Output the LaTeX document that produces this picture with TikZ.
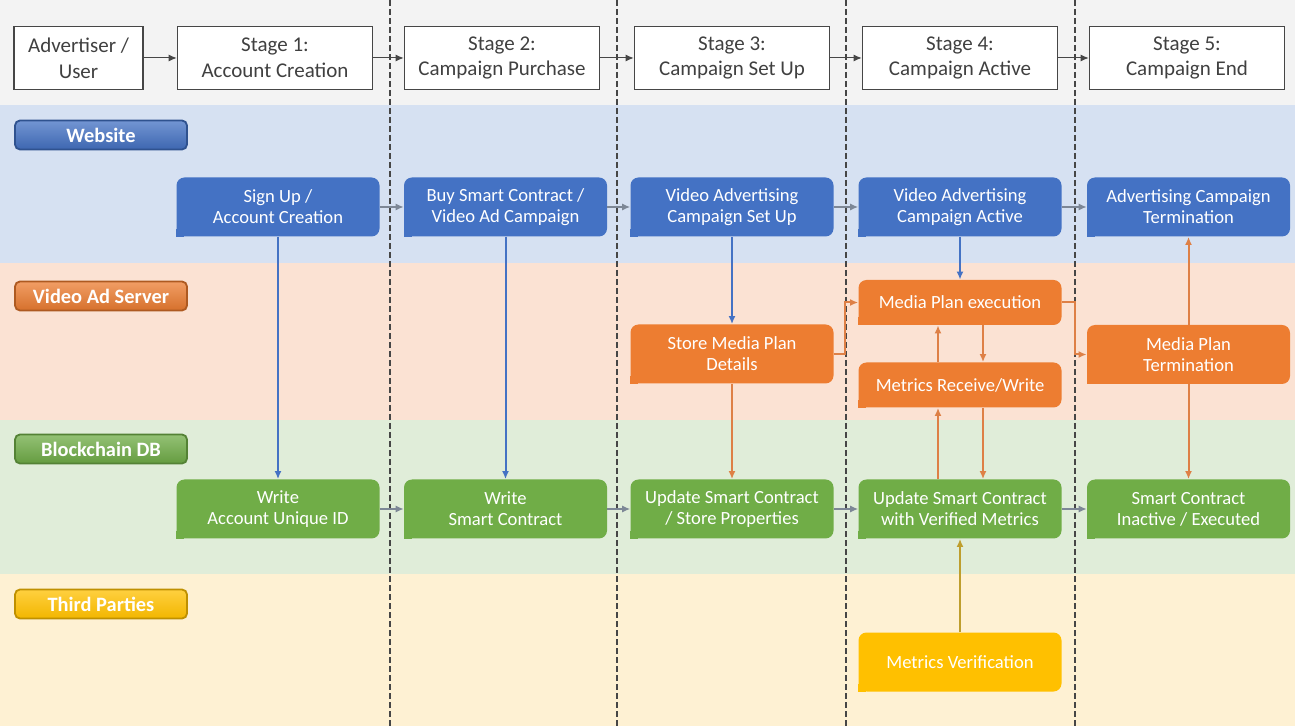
\documentclass[tikz,border=0pt]{standalone}
\usepackage{fontspec}
\setmainfont{Carlito}
\usetikzlibrary{arrows.meta}

\definecolor{hdrbg}{RGB}{243,243,243}
\definecolor{webbg}{RGB}{214,225,242}
\definecolor{vidbg}{RGB}{251,226,211}
\definecolor{bcbg}{RGB}{224,237,217}
\definecolor{tpbg}{RGB}{254,241,211}
\definecolor{cblue}{RGB}{68,114,196}
\definecolor{corange}{RGB}{237,125,49}
\definecolor{cgreen}{RGB}{112,173,71}
\definecolor{cyellow}{RGB}{255,192,0}
\definecolor{dblue}{RGB}{47,82,143}
\definecolor{dorange}{RGB}{174,90,33}
\definecolor{dgreen}{RGB}{84,130,53}
\definecolor{dyellow}{RGB}{191,144,0}
\definecolor{hdrline}{RGB}{70,70,70}
\definecolor{hdrtext}{RGB}{64,64,64}
\definecolor{flowgray}{RGB}{125,135,150}
\definecolor{oline}{RGB}{222,128,70}
\definecolor{yline}{RGB}{190,158,45}

\begin{document}
\begin{tikzpicture}[x=0.5pt,y=-0.5pt,>={Latex[length=4pt,width=3.5pt]}]
    \tikzset{
        stage/.style={
            draw=hdrline,line width=0.8pt,fill=white,text=hdrtext,
            minimum width=97.5pt,minimum height=31.5pt,align=center,
            font=\fontsize{10.5}{12.8}\selectfont
        },
        lane/.style={
            rounded corners=2.5pt,line width=0.9pt,text=white,
            minimum width=86pt,minimum height=14.5pt,inner sep=1pt,
            font=\fontsize{10.2}{12}\selectfont\bfseries
        },
        task/.style={
            rounded corners=4pt,text=white,
            minimum width=101.5pt,minimum height=29.5pt,align=center,
            font=\fontsize{9.3}{10.6}\selectfont
        },
        hflow/.style={->,draw=hdrline,line width=0.5pt},
        lflow/.style={->,draw=flowgray,line width=0.6pt},
        vflow/.style={->,line width=1pt},
        divider/.style={draw=hdrline,line width=0.6pt,dash pattern=on 3pt off 1.5pt}
    }

    % lanes
    \fill[hdrbg] (0,0) rectangle (1295,105);
    \fill[webbg] (0,105) rectangle (1295,263);
    \fill[vidbg] (0,263) rectangle (1295,420);
    \fill[bcbg] (0,420) rectangle (1295,574);
    \fill[tpbg] (0,574) rectangle (1295,726);
    \useasboundingbox (0,0) rectangle (1295,726);

    \foreach \x in {390,617,846,1075}
        \draw[divider] (\x,0) -- (\x,726);

    \node[lane,top color=cblue!75!white,bottom color=cblue!90!black,draw=dblue] (lweb) at (101,135) {Website};
    \node[lane,top color=corange!75!white,bottom color=corange!90!black,draw=dorange] (lvid) at (101,296) {Video Ad Server};
    \node[lane,top color=cgreen!75!white,bottom color=cgreen!90!black,draw=dgreen] (lbc) at (101,449) {Blockchain DB};
    \node[lane,top color=cyellow!75!white,bottom color=cyellow!95!black,draw=dyellow] (ltp) at (101,604) {Third Parties};

    \node[stage,minimum width=64.5pt] (adv) at (78.5,58) {Advertiser /\\User};
    \node[stage] (st1) at (275,58) {Stage 1:\\Account Creation};
    \node[stage] (st2) at (502,58) {Stage 2:\\Campaign Purchase};
    \node[stage] (st3) at (732,58) {Stage 3:\\Campaign Set Up};
    \node[stage] (st4) at (960,58) {Stage 4:\\Campaign Active};
    \node[stage] (st5) at (1187,58) {Stage 5:\\Campaign End};

    \node[task,fill=cblue] (signup) at (278,207) {Sign Up /\\Account Creation};
    \node[task,fill=cblue] (buy) at (505.5,207) {Buy Smart Contract /\\Video Ad Campaign};
    \node[task,fill=cblue] (setup) at (732,207) {Video Advertising\\Campaign Set Up};
    \node[task,fill=cblue] (active) at (960,207) {Video Advertising\\Campaign Active};
    \node[task,fill=cblue] (adterm) at (1188.5,207) {Advertising Campaign\\Termination};

    \node[task,fill=corange] (store) at (732,354) {Store Media Plan\\Details};
    \node[task,fill=corange,minimum height=22.5pt] (exec) at (960,302.5) {Media Plan execution};
    \node[task,fill=corange,minimum height=22.5pt] (metrics) at (960,385) {Metrics Receive/Write};
    \node[task,fill=corange] (mpterm) at (1188.5,354.5) {Media Plan\\Termination};

    \node[task,fill=cgreen] (wacct) at (278,509) {Write\\Account Unique ID};
    \node[task,fill=cgreen] (wsc) at (505.5,509) {Write\\Smart Contract};
    \node[task,fill=cgreen] (upd) at (732,509) {Update Smart Contract\\/ Store Properties};
    \node[task,fill=cgreen] (updm) at (960,509) {Update Smart Contract\\with Verified Metrics};
    \node[task,fill=cgreen] (inact) at (1188.5,509) {Smart Contract\\Inactive / Executed};

    \node[task,fill=cyellow] (verify) at (960,662) {Metrics Verification};

    \foreach \n/\c in {signup/cblue,buy/cblue,setup/cblue,active/cblue,adterm/cblue,
                       store/corange,exec/corange,metrics/corange,mpterm/corange,
                       wacct/cgreen,wsc/cgreen,upd/cgreen,updm/cgreen,inact/cgreen,
                       verify/cyellow}
        \fill[\c] (\n.south west) rectangle ++(8,-8);

    \foreach \a/\b in {adv/st1,st1/st2,st2/st3,st3/st4,st4/st5}
        \draw[hflow] (\a.east) -- (\b.west);

    \foreach \a/\b in {signup/buy,buy/setup,setup/active,active/adterm,
                       wacct/wsc,wsc/upd,upd/updm,updm/inact}
        \draw[lflow] (\a.east) -- (\b.west);

    \foreach \a/\b in {signup/wacct,buy/wsc,setup/store,active/exec}
        \draw[vflow,cblue] (\a.south) -- (\b.north);

    \draw[vflow,oline] (store.south) -- (upd.north);
    \draw[vflow,oline] (store.east) -- ++(11,0) |- (exec.west);
    \draw[vflow,oline] (exec.east) -- ++(13,0) |- (mpterm.west);
    \draw[vflow,oline] ([xshift=-11pt]metrics.north) -- ([xshift=-11pt]exec.south);
    \draw[vflow,oline] ([xshift=11.5pt]exec.south) -- ([xshift=11.5pt]metrics.north);
    \draw[vflow,oline] ([xshift=-11pt]updm.north) -- ([xshift=-11pt]metrics.south);
    \draw[vflow,oline] ([xshift=11.5pt]metrics.south) -- ([xshift=11.5pt]updm.north);
    \draw[vflow,oline] (mpterm.north) -- (adterm.south);
    \draw[vflow,oline] (mpterm.south) -- (inact.north);
    \draw[vflow,yline] (verify.north) -- (updm.south);
\end{tikzpicture}
\end{document}
